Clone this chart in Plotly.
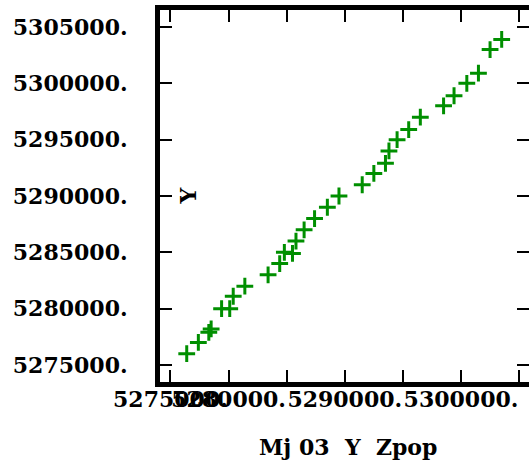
import plotly.graph_objects as go

x_vals = [5276400, 5277400, 5278300, 5278500, 5279400, 5280100, 5280400, 5281400,
          5283400, 5284400, 5284800, 5285500, 5285800, 5286500, 5287400, 5288500,
          5289500, 5291500, 5292500, 5293500, 5293800, 5294500, 5295500, 5296500,
          5298500, 5299400, 5300500, 5301500, 5302500, 5303500]
y_vals = [5276000, 5277000, 5277900, 5278200, 5280000, 5280000, 5281100, 5282000,
          5283000, 5284000, 5285000, 5284900, 5286000, 5287000, 5288000, 5289000,
          5290000, 5291000, 5292000, 5292900, 5294000, 5295000, 5295900, 5297000,
          5298000, 5298900, 5300000, 5300900, 5303000, 5303900]

x_tick_vals = [5275000, 5280000, 5285000, 5290000, 5295000, 5300000, 5305000]
x_tick_text = ["5275000.", "5280000.", "", "5290000.", "", "5300000.", ""]
y_tick_vals = [5275000, 5280000, 5285000, 5290000, 5295000, 5300000, 5305000]
y_tick_text = ["5275000.", "5280000.", "5285000.", "5290000.", "5295000.", "5300000.", "5305000."]

x_title = "Mj 03\u00a0 Y\u00a0 Zpop"
y_title = "Y"

font_bold = dict(family="'DejaVu Serif', 'Liberation Serif', serif", size=22, color="black", weight="bold")

fig = go.Figure()
fig.add_trace(go.Scatter(
    x=x_vals, y=y_vals, mode="markers",
    marker=dict(symbol="cross-thin", size=12, line=dict(color="#008f00", width=3), color="#008f00"),
    showlegend=False,
))

axis_common = dict(
    showline=True, linewidth=5, linecolor="black", mirror="ticks",
    ticks="inside", ticklen=12, tickwidth=2, tickcolor="black",
    showgrid=False, zeroline=False, tickfont=font_bold, automargin=False,
    tickangle=0,
)

fig.update_layout(
    width=529, height=465,
    margin=dict(l=160, r=0, t=10, b=83),
    paper_bgcolor="white", plot_bgcolor="white",
    xaxis=dict(range=[5274100, 5305850], tickmode="array", tickvals=x_tick_vals,
               ticktext=x_tick_text, ticklabelstandoff=-6, **axis_common),
    yaxis=dict(range=[5273490, 5306510], tickmode="array", tickvals=y_tick_vals,
               ticktext=y_tick_text, ticklabelstandoff=23, **axis_common),
    annotations=[
        dict(text=y_title, xref="paper", yref="paper", x=0.077, y=0.5,
             textangle=-90, showarrow=False, font=font_bold,
             xanchor="center", yanchor="middle"),
        dict(text=x_title, xref="paper", yref="paper", x=0.51, y=-0.175,
             showarrow=False, font=font_bold, xanchor="center", yanchor="middle"),
    ],
)

fig.write_html("out.html")
